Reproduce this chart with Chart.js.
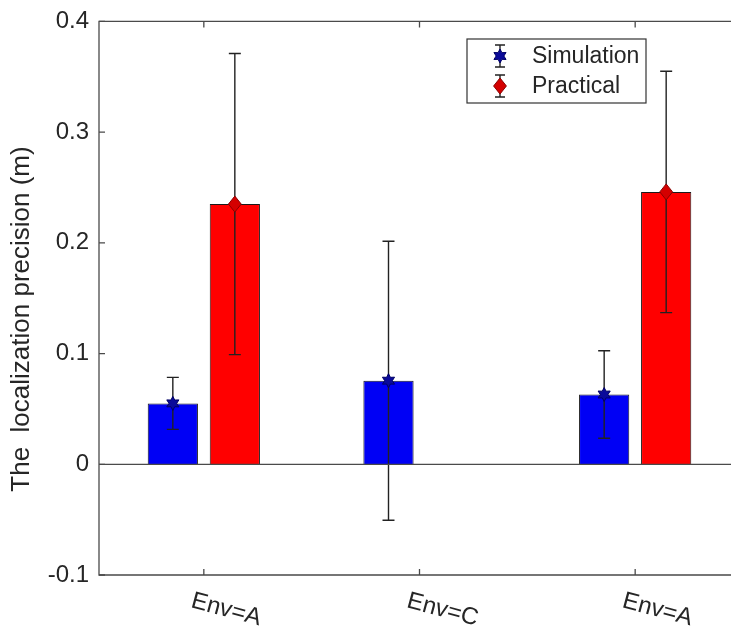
<!DOCTYPE html>
<html>
<head>
<meta charset="utf-8">
<script src="https://cdn.jsdelivr.net/npm/chart.js@4.4.0/dist/chart.umd.min.js"></script>
<style>
    html, body { margin: 0; padding: 0; background: #fff; overflow: hidden; }
    #wrap { width: 760px; height: 632px; }
</style>
</head>
<body>
<div id="wrap"><canvas id="precisionChart" width="760" height="632"></canvas></div>
<script>
// data
const categories = ['Env=A', 'Env=C', 'Env=A'];
const seriesNames = ['Simulation', 'Practical'];
const simulationValues = [0.055, 0.0755, 0.063];
const simulationErrors = [0.0235, 0.126, 0.0395];
const practicalValues = [0.235, null, 0.246];
const practicalErrors = [0.136, null, 0.109];
const yTickValues = [-0.1, 0, 0.1, 0.2, 0.3, 0.4];
const yTickLabels = ['-0.1', '0', '0.1', '0.2', '0.3', '0.4'];
const yTitle = 'The  localization precision (m)';

const fontFamily = '"Liberation Sans", Arial, Helvetica, sans-serif';
const axisColor = '#4a4a4a';
const textColor = '#262626';
const AXIS_X = 99;  // where the left axis line sits

function drawErrorBar(ctx, x, yTop, yBottom, cap) {
    ctx.save();
    ctx.strokeStyle = '#222';
    ctx.lineWidth = 1.4;
    ctx.beginPath();
    ctx.moveTo(x, yTop);
    ctx.lineTo(x, yBottom);
    ctx.moveTo(x - cap, yTop);
    ctx.lineTo(x + cap, yTop);
    ctx.moveTo(x - cap, yBottom);
    ctx.lineTo(x + cap, yBottom);
    ctx.stroke();
    ctx.restore();
}

function drawHexagram(ctx, x, y, r) {
    ctx.save();
    ctx.beginPath();
    for (let k = 0; k < 12; k++) {
        const a = -Math.PI / 2 + k * Math.PI / 6;
        const rr = k % 2 === 0 ? r : r * 0.55;
        const px = x + rr * Math.cos(a);
        const py = y + rr * Math.sin(a);
        if (k === 0) ctx.moveTo(px, py); else ctx.lineTo(px, py);
    }
    ctx.closePath();
    ctx.fillStyle = '#0a0a9a';
    ctx.strokeStyle = '#000066';
    ctx.lineWidth = 1;
    ctx.fill();
    ctx.stroke();
    ctx.restore();
}

function drawDiamond(ctx, x, y, r) {
    ctx.save();
    ctx.beginPath();
    ctx.moveTo(x, y - r);
    ctx.lineTo(x + r * 0.8, y);
    ctx.lineTo(x, y + r);
    ctx.lineTo(x - r * 0.8, y);
    ctx.closePath();
    ctx.fillStyle = '#d40000';
    ctx.strokeStyle = '#8a0000';
    ctx.lineWidth = 1;
    ctx.fill();
    ctx.stroke();
    ctx.restore();
}

const matlabLook = {
    id: 'matlabLook',
    afterDatasetsDraw(chart) {
        const ctx = chart.ctx;
        const y = chart.scales.y;
        const series = [
            { values: simulationValues, errors: simulationErrors, marker: drawHexagram, size: 7 },
            { values: practicalValues, errors: practicalErrors, marker: drawDiamond, size: 8 }
        ];
        series.forEach((s, di) => {
            const meta = chart.getDatasetMeta(di);
            s.values.forEach((v, i) => {
                if (v === null) return;
                const x = meta.data[i].x;
                drawErrorBar(ctx, x, y.getPixelForValue(v + s.errors[i]), y.getPixelForValue(v - s.errors[i]), 6);
                s.marker(ctx, x, y.getPixelForValue(v), s.size);
            });
        });
    },
    afterDraw(chart) {
        const ctx = chart.ctx;
        const area = chart.chartArea;
        const x = chart.scales.x;
        const y = chart.scales.y;
        const zeroY = y.getPixelForValue(0);

        ctx.save();
        ctx.strokeStyle = axisColor;
        ctx.lineWidth = 1.3;

        // bar baseline
        ctx.beginPath();
        ctx.moveTo(AXIS_X, zeroY);
        ctx.lineTo(area.right, zeroY);
        ctx.stroke();

        // axes box
        ctx.beginPath();
        ctx.moveTo(area.right, area.top);
        ctx.lineTo(AXIS_X, area.top);
        ctx.lineTo(AXIS_X, area.bottom);
        ctx.lineTo(area.right, area.bottom);
        ctx.lineTo(area.right, area.top);
        ctx.stroke();

        // inward ticks
        ctx.beginPath();
        yTickValues.forEach(v => {
            const py = y.getPixelForValue(v);
            ctx.moveTo(AXIS_X, py);
            ctx.lineTo(AXIS_X + 6, py);
            ctx.moveTo(area.right, py);
            ctx.lineTo(area.right - 6, py);
        });
        categories.forEach((c, i) => {
            const px = x.getPixelForValue(i);
            ctx.moveTo(px, area.bottom);
            ctx.lineTo(px, area.bottom - 6);
            ctx.moveTo(px, area.top);
            ctx.lineTo(px, area.top + 6);
        });
        ctx.stroke();

        // slanted category labels
        ctx.fillStyle = textColor;
        ctx.font = '24px ' + fontFamily;
        ctx.textAlign = 'left';
        ctx.textBaseline = 'top';
        categories.forEach((c, i) => {
            const px = x.getPixelForValue(i);
            ctx.save();
            ctx.translate(px - 9, area.bottom + 14);
            ctx.rotate(15 * Math.PI / 180);
            ctx.fillText(c, 0, 0);
            ctx.restore();
        });

        // y axis title
        ctx.save();
        ctx.font = '26px ' + fontFamily;
        ctx.textAlign = 'center';
        ctx.textBaseline = 'middle';
        ctx.translate(22, 319);
        ctx.rotate(-Math.PI / 2);
        ctx.fillText(yTitle, 0, 0);
        ctx.restore();

        // legend
        const lx = 467, ly = 39, lw = 179, lh = 64;
        ctx.fillStyle = '#fff';
        ctx.fillRect(lx, ly, lw, lh);
        ctx.strokeStyle = '#333';
        ctx.lineWidth = 1.2;
        ctx.strokeRect(lx, ly, lw, lh);
        const rows = [ly + 17, ly + 47];
        drawErrorBar(ctx, 500, rows[0] - 11, rows[0] + 11, 5);
        drawHexagram(ctx, 500, rows[0], 7);
        drawErrorBar(ctx, 500, rows[1] - 11, rows[1] + 11, 5);
        drawDiamond(ctx, 500, rows[1], 8);
        ctx.fillStyle = textColor;
        ctx.font = '23px ' + fontFamily;
        ctx.textAlign = 'left';
        ctx.textBaseline = 'middle';
        seriesNames.forEach((name, i) => ctx.fillText(name, 532, rows[i] + 1));
        ctx.restore();
    }
};

new Chart(document.getElementById('precisionChart').getContext('2d'), {
    type: 'bar',
    data: {
        labels: categories,
        datasets: [{
            label: seriesNames[0],
            data: simulationValues,
            backgroundColor: '#0000f5',
            borderColor: '#1a1a1a',
            borderWidth: 1,
            categoryPercentage: 0.575,
            barPercentage: 0.81
        }, {
            label: seriesNames[1],
            data: practicalValues,
            backgroundColor: '#ff0000',
            borderColor: '#1a1a1a',
            borderWidth: 1,
            categoryPercentage: 0.575,
            barPercentage: 0.81
        }]
    },
    options: {
        responsive: false,
        animation: false,
        devicePixelRatio: 1,
        layout: { padding: { left: 0, top: 20, right: 17, bottom: 57 } },
        plugins: {
            legend: { display: false },
            tooltip: { enabled: false }
        },
        scales: {
            x: {
                display: false
            },
            y: {
                min: -0.1,
                max: 0.4,
                afterFit: scale => { scale.width = AXIS_X - 3; },
                afterBuildTicks: scale => { scale.ticks = yTickValues.map(v => ({ value: v })); },
                grid: { display: false, drawTicks: false },
                border: { display: false },
                ticks: {
                    padding: 7,
                    color: textColor,
                    font: { family: fontFamily, size: 24 },
                    callback: (value, index) => yTickLabels[index]
                }
            }
        }
    },
    plugins: [matlabLook]
});
</script>
</body>
</html>
